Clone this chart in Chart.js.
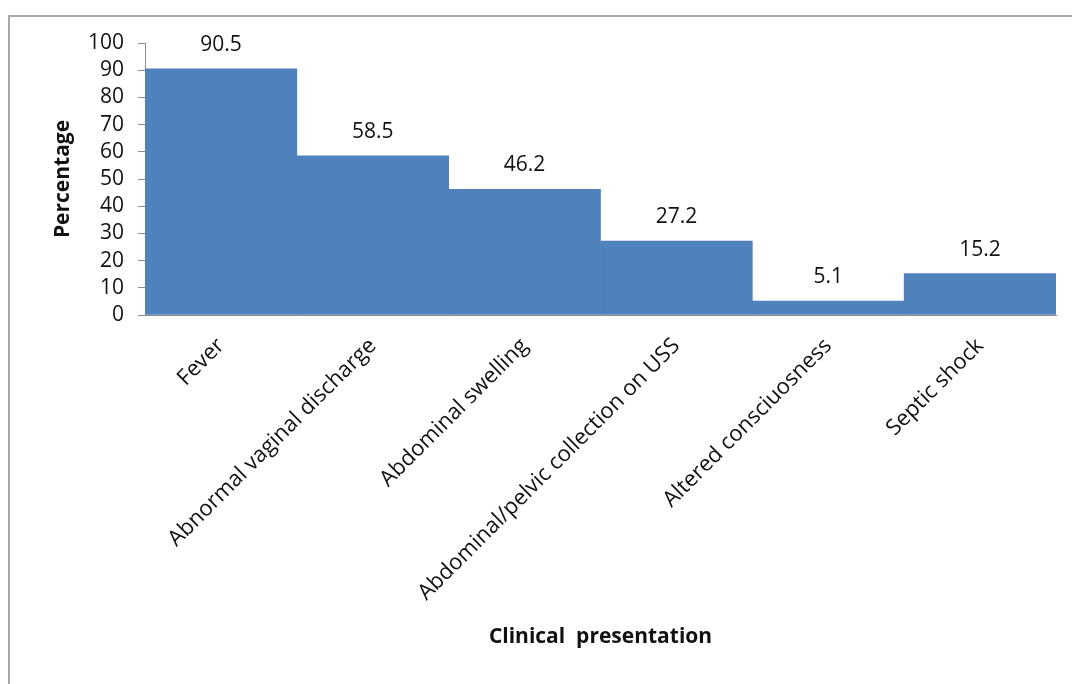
<!DOCTYPE html>
<html lang="en">
<head>
  <meta charset="utf-8">
  <script src="https://cdn.jsdelivr.net/npm/chart.js@4/dist/chart.umd.min.js"></script>
  <style>
    html, body { margin: 0; padding: 0; background: #fff; }
    #wrap { position: relative; width: 1072px; height: 684px; }
    /* grey frame, only top and left edges show in the picture */
    .frame { position: absolute; left: 8px; top: 15px; right: 0; bottom: 0;
             border-top: 2px solid #a8a8a8; border-left: 2px solid #a8a8a8; }
    #chart { position: absolute; left: 0; top: 0; }
  </style>
</head>
<body>
  <div id="wrap">
    <div class="frame"></div>
    <canvas id="chart" width="1072" height="684"></canvas>
  </div>
<script>
  // data
  const categories = ['Fever', 'Abnormal vaginal discharge', 'Abdominal swelling',
    'Abdominal/pelvic collection on USS', 'Altered consciuosness', 'Septic shock'];
  const percentages = [90.5, 58.5, 46.2, 27.2, 5.1, 15.2];
  const yTicks = [0, 10, 20, 30, 40, 50, 60, 70, 80, 90, 100];

  const fontFamily = '"Open Sans", sans-serif';

  // value label above each bar
  const barLabels = {
    id: 'barLabels',
    afterDatasetsDraw(chart) {
      const ctx = chart.ctx;
      const meta = chart.getDatasetMeta(0);
      ctx.save();
      ctx.font = '21px ' + fontFamily;
      ctx.fillStyle = '#111';
      ctx.textAlign = 'center';
      ctx.textBaseline = 'middle';
      meta.data.forEach(function (bar, i) {
        ctx.fillText(String(percentages[i]), bar.x, bar.y - 24);
      });
      ctx.restore();
    }
  };

  new Chart(document.getElementById('chart'), {
    type: 'bar',
    data: {
      labels: categories,
      datasets: [{
        data: percentages,
        backgroundColor: '#4f81bd',
        borderWidth: 0,
        categoryPercentage: 1.0,
        barPercentage: 1.0
      }]
    },
    options: {
      responsive: false,
      animation: false,
      layout: { padding: { top: 43, right: 16, left: 50, bottom: 34 } },
      plugins: {
        legend: { display: false },
        tooltip: { enabled: false }
      },
      scales: {
        x: {
          grid: { display: false },
          border: { display: true, color: '#8c8c8c', width: 1 },
          ticks: {
            color: '#111',
            font: { family: fontFamily, size: 22 },
            minRotation: 45,
            maxRotation: 45,
            autoSkip: false,
            padding: 10
          },
          title: {
            display: true,
            text: 'Clinical  presentation',
            color: '#111',
            font: { family: fontFamily, size: 21, weight: 'bold' },
            padding: { top: 0, bottom: 0 }
          },
          afterFit: function (scale) { scale.height = 335; }
        },
        y: {
          min: 0,
          max: 100,
          afterBuildTicks: function (scale) {
            scale.ticks = yTicks.map(function (v) { return { value: v }; });
          },
          grid: { display: true, drawOnChartArea: false, tickLength: 7, color: '#8c8c8c' },
          border: { display: true, color: '#8c8c8c', width: 1 },
          ticks: {
            color: '#111',
            font: { family: fontFamily, size: 21 },
            autoSkip: false,
            padding: 14
          },
          title: {
            display: true,
            text: 'Percentage',
            color: '#111',
            font: { family: fontFamily, size: 21, weight: 'bold' },
            padding: { top: 0, bottom: 0 }
          },
          afterFit: function (scale) { scale.width = 95; }
        }
      }
    },
    plugins: [barLabels]
  });
</script>
</body>
</html>
